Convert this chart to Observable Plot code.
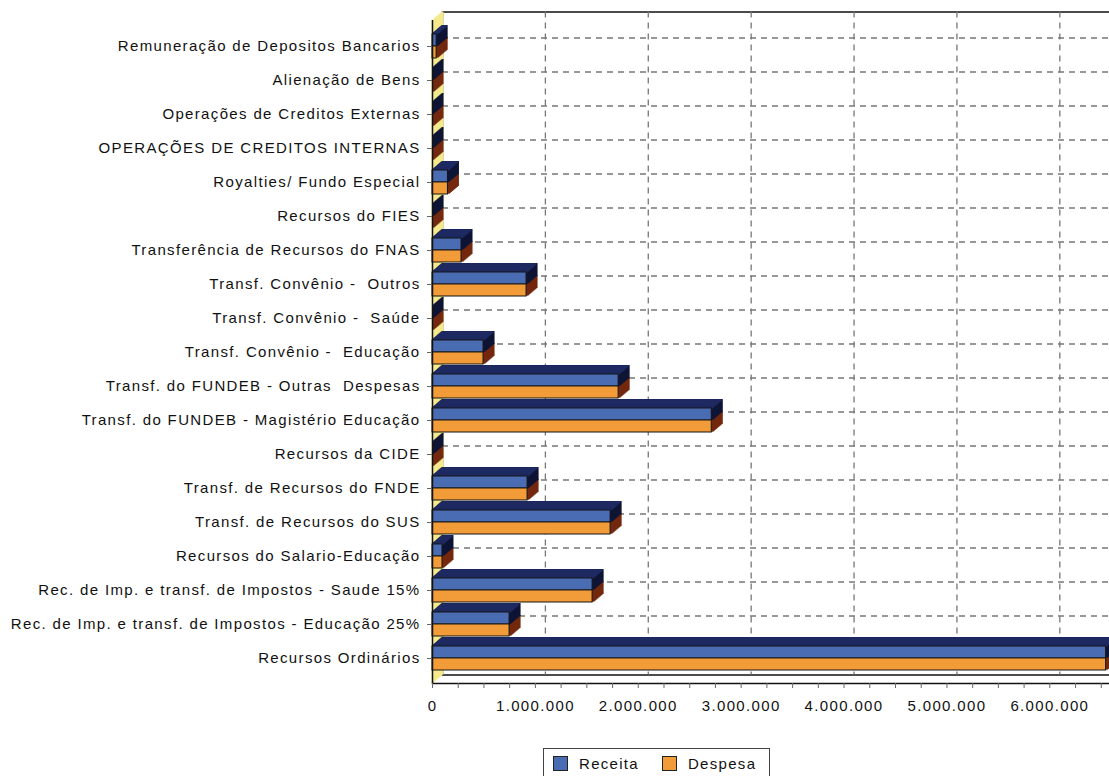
<!DOCTYPE html>
<html>
<head>
<meta charset="utf-8">
<script src="https://cdn.jsdelivr.net/npm/d3@7"></script>
<script src="https://cdn.jsdelivr.net/npm/@observablehq/plot@0.6"></script>
<style>
  html, body { margin: 0; padding: 0; background: #fff; overflow: hidden; }
  #chart { position: absolute; left: 0; top: 0; }
  #legend {
    position: absolute; left: 543px; top: 748px; width: 227px; height: 34px;
    border: 1px solid #444; box-sizing: border-box; background: #fff;
    font-family: "Liberation Sans", Arial, sans-serif; font-size: 15px; letter-spacing: 1.3px; color: #111;
    display: flex; align-items: flex-start; padding-top: 6px; padding-left: 9px;
  }
  .sw { display: inline-block; width: 13px; height: 13px; border: 1px solid #222; margin-right: 11px; margin-top: 1px; }
  .item { display: flex; align-items: flex-start; margin-right: 23px; }
</style>
</head>
<body>
<div id="chart"></div>
<div id="legend">
  <span class="item"><span class="sw" style="background:#4a6cb3"></span>Receita</span>
  <span class="item"><span class="sw" style="background:#f19c38"></span>Despesa</span>
</div>
<script>
// ---- Data ----
const categories = [
  "Remuneração de Depositos Bancarios",
  "Alienação de Bens",
  "Operações de Creditos Externas",
  "OPERAÇÕES DE CREDITOS INTERNAS",
  "Royalties/ Fundo Especial",
  "Recursos do FIES",
  "Transferência de Recursos do FNAS",
  "Transf. Convênio -  Outros",
  "Transf. Convênio -  Saúde",
  "Transf. Convênio -  Educação",
  "Transf. do FUNDEB - Outras  Despesas",
  "Transf. do FUNDEB - Magistério Educação",
  "Recursos da CIDE",
  "Transf. de Recursos do FNDE",
  "Transf. de Recursos do SUS",
  "Recursos do Salario-Educação",
  "Rec. de Imp. e transf. de Impostos - Saude 15%",
  "Rec. de Imp. e transf. de Impostos - Educação 25%",
  "Recursos Ordinários"
];
const receita = [40000, 0, 0, 0, 150000, 0, 282000, 914000, 0, 496000, 1809000, 2714000, 0, 924000, 1731000, 97000, 1556000, 749000, 6547000];
const despesa = [40000, 0, 0, 0, 150000, 0, 282000, 914000, 0, 496000, 1809000, 2714000, 0, 924000, 1731000, 97000, 1556000, 749000, 6547000];
const xTicks = [0, 1000000, 2000000, 3000000, 4000000, 5000000, 6000000];
const xMinorTicks = d3.range(0, 6600000, 250000);
const xMax = 6580000;

const data = categories.map((c, i) => ({categoria: c, receita: receita[i], despesa: despesa[i]}));

// ---- Layout ----
const W = 1109, H = 720, mTop = 20, mBottom = 37, mLeft = 432;
const pIn = 0.3, pOut = 0.34;
const step = (H - mTop - mBottom) / (categories.length - pIn + 2 * pOut);
const bw = step * (1 - pIn);
const half = bw / 2;
const DEPTH = 10, DY = -0.85;

const blue = "#4a6cb3", navy = "#1f2b62", navyDark = "#0f1535",
      orange = "#f19c38", brown = "#74290f", wall = "#f4ea8c";

const ptFormat = d3.formatLocale({decimal: ",", thousands: ".", grouping: [3], currency: ["", ""]}).format(",d");

const marks = [];
// back wall
marks.push(Plot.frame({dx: DEPTH, dy: DEPTH * DY, stroke: "#111", strokeWidth: 1.5}));
// dashed gridlines on the back wall
marks.push(Plot.ruleX(xTicks.slice(1), {dx: DEPTH, dy: DEPTH * DY, stroke: "#777", strokeWidth: 1.3, strokeDasharray: "6,5"}));
marks.push(Plot.ruleY(categories, {dx: DEPTH, dy: DEPTH * DY, stroke: "#777", strokeWidth: 1.3, strokeDasharray: "6,5"}));
// left (yellow) wall
for (let k = 0; k <= DEPTH; k++) {
  marks.push(Plot.ruleX([0], {dx: k, dy: k * DY, stroke: wall, strokeWidth: 2}));
}
// 3D extrusions: despesa (brown) first, receita (navy) on top
for (let k = DEPTH; k >= 1; k--) {
  marks.push(Plot.barX(data, {y: "categoria", x: "despesa", insetTop: half, insetRight: -1, fill: brown, stroke: brown, strokeWidth: 1, dx: k, dy: k * DY}));
}
for (let k = DEPTH; k >= 1; k--) {
  marks.push(Plot.barX(data, {y: "categoria", x: "receita", insetBottom: half, insetRight: -1, fill: navyDark, stroke: navyDark, strokeWidth: 1, dx: k, dy: k * DY}));
}
// top faces of receita bars (lighter navy)
for (let k = DEPTH; k >= 1; k--) {
  marks.push(Plot.barX(data, {y: "categoria", x: "receita", insetBottom: bw - 1.2, insetRight: 0, fill: navy, stroke: navy, strokeWidth: 0.8, dx: k, dy: k * DY}));
}
// front faces
marks.push(Plot.barX(data, {y: "categoria", x: "receita", insetBottom: half, fill: blue, stroke: "#151515", strokeWidth: 1}));
marks.push(Plot.barX(data, {y: "categoria", x: "despesa", insetTop: half, fill: orange, stroke: "#151515", strokeWidth: 1}));
// front edges
marks.push(Plot.ruleX([0], {stroke: "#111", strokeWidth: 1.5}));
marks.push(Plot.frame({anchor: "bottom", stroke: "#111", strokeWidth: 1.5}));
// axes
marks.push(Plot.axisX({ticks: xMinorTicks, tickFormat: () => "", tickSize: 5, stroke: "#666"}));
marks.push(Plot.axisX({ticks: xTicks, tickFormat: ptFormat, tickSize: 0, tickPadding: 17, fill: "#111"}));
marks.push(Plot.axisY({tickSize: 5, tickPadding: 7, fill: "#111", stroke: "#666"}));

const chart = Plot.plot({
  width: W, height: H,
  marginTop: mTop, marginBottom: mBottom, marginLeft: mLeft, marginRight: 0,
  style: {fontFamily: "'Liberation Sans', Arial, sans-serif", fontSize: "15px", letterSpacing: "1.35px", color: "#111", background: "#fff"},
  x: {domain: [0, xMax], label: null},
  y: {type: "band", domain: categories, paddingInner: pIn, paddingOuter: pOut, label: null},
  marks
});
document.getElementById("chart").appendChild(chart);
</script>
</body>
</html>
